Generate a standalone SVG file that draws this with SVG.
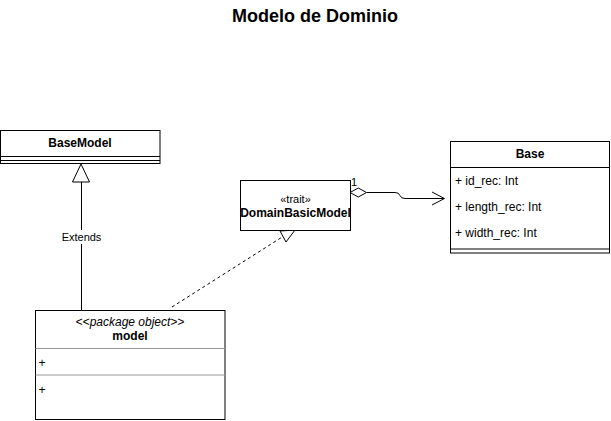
<svg xmlns="http://www.w3.org/2000/svg" width="611" height="421" viewBox="0 0 611 421">
<style>
  text { font-family: "Liberation Sans", Arial, Helvetica, sans-serif; fill: #000; }
  .box { fill: #fff; stroke: #000; stroke-width: 1; }
  .sep { stroke: #000; stroke-width: 1; fill: none; }
  .gsep { stroke: #999; stroke-width: 1; fill: none; }
  .name { font-size: 12px; font-weight: bold; text-anchor: middle; }
  .attr { font-size: 12px; }
  .edge { stroke: #000; stroke-width: 1; fill: none; }
  .dash { stroke-dasharray: 3 3; }
  .head { fill: #fff; stroke: #000; stroke-width: 1; }
</style>
<rect width="611" height="421" fill="#fff"/>
<text x="315" y="22" font-size="18" font-weight="bold" text-anchor="middle">Modelo de Dominio</text>

<g id="connectors">
  <g id="extends-edge">
    <line class="edge" x1="81.5" y1="310" x2="81.5" y2="182"/>
    <polygon class="head" points="81,164 89.5,182 72.5,182"/>
    <rect x="59" y="230" width="45" height="14" fill="#fff"/>
    <text x="81.5" y="241" font-size="11" text-anchor="middle">Extends</text>
  </g>
  <g id="realize-edge">
    <line class="edge dash" x1="172" y1="307" x2="283" y2="236.5"/>
    <polygon class="head" points="295,230 280,231 286,242"/>
  </g>
  <g id="aggregation-edge">
    <path class="edge" d="M366.5,192.5 H395 Q399,192.5 400,195.5 Q401,198.5 405,198.5 H444"/>
    <polyline class="edge" points="432,192 444.5,198.5 432,205"/>
    <polygon class="head" points="350,192.5 358.3,188 366.5,192.5 358.3,197"/>
    <text x="351" y="186" font-size="11">1</text>
  </g>
</g>

<g id="BaseModel">
  <rect class="box" x="0.5" y="130.5" width="159.5" height="33"/>
  <line class="sep" x1="0.5" y1="156.5" x2="160" y2="156.5"/>
  <line class="sep" x1="0.5" y1="160.5" x2="160" y2="160.5"/>
  <text class="name" x="80" y="147">BaseModel</text>
</g>

<g id="DomainBasicModel">
  <rect class="box" x="240.5" y="180.5" width="110" height="50"/>
  <text x="295.5" y="202.5" font-size="11" text-anchor="middle">«trait»</text>
  <text class="name" x="295.5" y="217">DomainBasicModel</text>
</g>

<g id="Base">
  <rect class="box" x="450.5" y="141.5" width="159" height="111.5"/>
  <line class="sep" x1="450.5" y1="167.5" x2="609.5" y2="167.5"/>
  <line class="sep" x1="450.5" y1="249" x2="609.5" y2="249"/>
  <text class="name" x="530" y="158">Base</text>
  <text class="attr" x="455" y="184.5">+ id_rec: Int</text>
  <text class="attr" x="455" y="210.5">+ length_rec: Int</text>
  <text class="attr" x="455" y="236.5">+ width_rec: Int</text>
</g>

<g id="model">
  <rect class="box" x="35.5" y="310.5" width="189.5" height="109"/>
  <line class="gsep" x1="35.5" y1="348.5" x2="225" y2="348.5"/>
  <line class="gsep" x1="35.5" y1="375" x2="225" y2="375"/>
  <text x="130" y="326" font-size="12" font-style="italic" text-anchor="middle">&lt;&lt;package object&gt;&gt;</text>
  <text class="name" x="130" y="339.5">model</text>
  <text class="attr" x="38.5" y="366.5">+</text>
  <text class="attr" x="38.5" y="393.5">+</text>
</g>
</svg>
